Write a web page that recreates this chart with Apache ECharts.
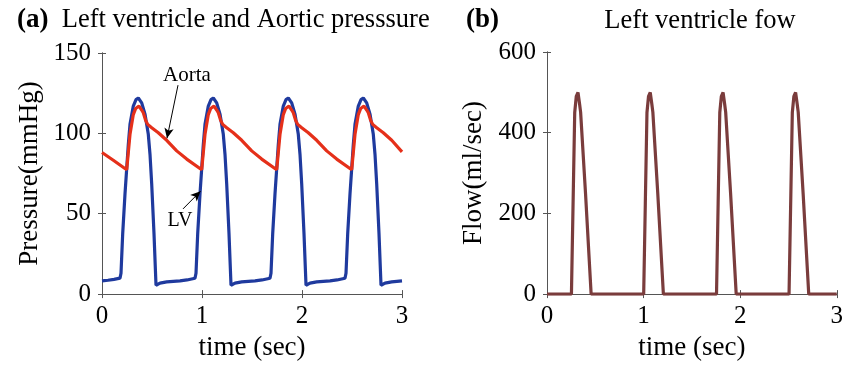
<!DOCTYPE html>
<html>
<head>
<meta charset="utf-8">
<script src="https://cdn.jsdelivr.net/npm/echarts@6/dist/echarts.min.js"></script>
<style>
  html, body { margin: 0; padding: 0; background: #fff; }
  #chart { width: 846px; height: 366px; }
</style>
</head>
<body>
<div id="chart"></div>
<script>
// time ticks (sec)
const timeTicks = [0, 1, 2, 3];
const pressureTicks = [0, 50, 100, 150];
const flowTicks = [0, 200, 400, 600];

// LV pressure [t, mmHg]
const lvPressure = [
  [0, 8.2], [0.06, 8.6], [0.12, 9.2], [0.18, 9.9],
  [0.19, 13], [0.207, 37.6], [0.23, 62.3], [0.247, 78], [0.263, 93], [0.28, 105.6], [0.313, 117], [0.34, 121], [0.363, 122],
  [0.397, 119], [0.43, 112], [0.463, 99.4], [0.48, 87], [0.497, 68.5], [0.52, 37.6], [0.54, 5.5], [0.553, 5.0],
  [0.58, 6.8], [0.647, 7.6], [0.78, 8.2], [0.85, 8.8], [0.93, 9.9],
  [0.94, 13], [0.957, 37.6], [0.98, 62.3], [0.997, 78], [1.013, 93], [1.03, 105.6], [1.063, 117], [1.09, 121], [1.113, 122],
  [1.147, 119], [1.18, 112], [1.213, 99.4], [1.23, 87], [1.247, 68.5], [1.27, 37.6], [1.29, 5.5], [1.303, 5.0],
  [1.33, 6.8], [1.397, 7.6], [1.53, 8.2], [1.6, 8.8], [1.68, 9.9],
  [1.69, 13], [1.707, 37.6], [1.73, 62.3], [1.747, 78], [1.763, 93], [1.78, 105.6], [1.813, 117], [1.84, 121], [1.863, 122],
  [1.897, 119], [1.93, 112], [1.963, 99.4], [1.98, 87], [1.997, 68.5], [2.02, 37.6], [2.04, 5.5], [2.053, 5.0],
  [2.08, 6.8], [2.147, 7.6], [2.28, 8.2], [2.35, 8.8], [2.43, 9.9],
  [2.44, 13], [2.457, 37.6], [2.48, 62.3], [2.497, 78], [2.513, 93], [2.53, 105.6], [2.563, 117], [2.59, 121], [2.613, 122],
  [2.647, 119], [2.68, 112], [2.713, 99.4], [2.73, 87], [2.747, 68.5], [2.77, 37.6], [2.79, 5.5], [2.803, 5.0],
  [2.83, 6.8], [2.897, 7.6], [3.0, 8.2]
];

// Aortic pressure [t, mmHg]
const aorticPressure = [
  [0, 88.1], [0.113, 83.3], [0.247, 77.4],
  [0.28, 99.4], [0.313, 111.7], [0.337, 115.5], [0.37, 117], [0.397, 114.5], [0.413, 112.8], [0.437, 108], [0.457, 105.6],
  [0.497, 103.5], [0.563, 100.4], [0.647, 95.7], [0.747, 89.1], [0.847, 84], [0.997, 77.4],
  [1.03, 99.4], [1.063, 111.7], [1.087, 115.5], [1.12, 117], [1.147, 114.5], [1.163, 112.8], [1.187, 108], [1.207, 105.6],
  [1.247, 103.5], [1.313, 100.4], [1.397, 95.7], [1.497, 89.1], [1.597, 84], [1.747, 77.4],
  [1.78, 99.4], [1.813, 111.7], [1.837, 115.5], [1.87, 117], [1.897, 114.5], [1.913, 112.8], [1.937, 108], [1.957, 105.6],
  [1.997, 103.5], [2.063, 100.4], [2.147, 95.7], [2.247, 89.1], [2.347, 84], [2.497, 77.4],
  [2.53, 99.4], [2.563, 111.7], [2.587, 115.5], [2.62, 117], [2.647, 114.5], [2.663, 112.8], [2.687, 108], [2.707, 105.6],
  [2.747, 103.5], [2.813, 100.4], [2.897, 95.7], [3.0, 88.5]
];

// LV flow [t, ml/sec]
const lvFlow = [
  [0, 0], [0.253, 0], [0.27, 225], [0.287, 450], [0.303, 490], [0.321, 500], [0.338, 470], [0.348, 451], [0.399, 249], [0.457, 0],
  [1.001, 0], [1.018, 225], [1.035, 450], [1.051, 490], [1.069, 500], [1.086, 470], [1.096, 451], [1.147, 249], [1.205, 0],
  [1.755, 0], [1.772, 225], [1.789, 450], [1.805, 490], [1.823, 500], [1.84, 470], [1.85, 451], [1.901, 249], [1.959, 0],
  [2.506, 0], [2.523, 225], [2.54, 450], [2.556, 490], [2.574, 500], [2.591, 470], [2.601, 451], [2.652, 249], [2.71, 0],
  [3, 0]
];

// annotation arrows and labels (data units)
const aortaArrow = [[0.76, 130], [0.65, 97]];
const lvArrow = [[0.81, 53], [0.985, 64]];
const aortaLabel = [0.85, 136];
const lvLabel = [0.78, 45.5];

const serif = "'Liberation Serif', 'Times New Roman', serif";
const axisColor = '#555';

function xAxes(gridIndex, name) {
  return [
    {
      gridIndex, type: 'value', min: timeTicks[0], max: timeTicks[timeTicks.length - 1], interval: 1,
      name, nameLocation: 'middle', nameGap: 35,
      nameTextStyle: { fontFamily: serif, fontSize: 27, color: '#000' },
      axisLine: { show: true, lineStyle: { color: axisColor, width: 1 } },
      axisTick: { show: true, inside: true, length: 4, lineStyle: { color: axisColor } },
      axisLabel: { fontFamily: serif, fontSize: 25, color: '#000', margin: 10 },
      splitLine: { show: false }
    },
    {
      gridIndex, type: 'value', position: 'top', min: timeTicks[0], max: timeTicks[timeTicks.length - 1], interval: 1,
      axisLine: { show: true, lineStyle: { color: axisColor, width: 1 } },
      axisTick: { show: true, inside: true, length: 4, lineStyle: { color: axisColor } },
      axisLabel: { show: false },
      splitLine: { show: false }
    }
  ];
}

function yAxes(gridIndex, name, ticks, nameGap) {
  const max = ticks[ticks.length - 1];
  const interval = ticks[1] - ticks[0];
  return [
    {
      gridIndex, type: 'value', min: 0, max, interval,
      name, nameLocation: 'middle', nameGap,
      nameTextStyle: { fontFamily: serif, fontSize: 27, color: '#000' },
      axisLine: { show: true, lineStyle: { color: axisColor, width: 1 } },
      axisTick: { show: true, inside: true, length: 4, lineStyle: { color: axisColor } },
      axisLabel: { fontFamily: serif, fontSize: 25, color: '#000', margin: 11 },
      splitLine: { show: false }
    },
    {
      gridIndex, type: 'value', position: 'right', min: 0, max, interval,
      axisLine: { show: true, lineStyle: { color: axisColor, width: 1 } },
      axisTick: { show: true, inside: true, length: 4, lineStyle: { color: axisColor } },
      axisLabel: { show: false },
      splitLine: { show: false }
    }
  ];
}

const chart = echarts.init(document.getElementById('chart'), null, { renderer: 'canvas' });

chart.setOption({
  animation: false,
  backgroundColor: '#fff',
  title: [
    {
      text: '{b|(a)}  Left ventricle and Aortic presssure',
      left: 12, top: 2,
      textStyle: {
        fontFamily: serif, fontSize: 26.5, fontWeight: 'normal', color: '#000',
        rich: { b: { fontFamily: serif, fontSize: 27, fontWeight: 'bold', color: '#000' } }
      }
    },
    {
      text: '(b)',
      left: 461, top: 2,
      textStyle: { fontFamily: serif, fontSize: 27, fontWeight: 'bold', color: '#000' }
    },
    {
      text: 'Left ventricle fow',
      left: 695, top: 3, textAlign: 'center',
      textStyle: { fontFamily: serif, fontSize: 26.5, fontWeight: 'normal', color: '#000' }
    }
  ],
  grid: [
    { left: 102, top: 53, width: 300, height: 243 },
    { left: 547, top: 52, width: 295, height: 247 }
  ],
  xAxis: [...xAxes(0, 'time (sec)'), ...xAxes(1, 'time (sec)')],
  yAxis: [...yAxes(0, 'Pressure(mmHg)', pressureTicks, 59), ...yAxes(1, 'Flow(ml/sec)', flowTicks, 60)],
  series: [
    {
      name: 'LV', type: 'line', xAxisIndex: 0, yAxisIndex: 0,
      data: lvPressure, showSymbol: false,
      lineStyle: { color: '#1f3a9e', width: 3.2 },
      markLine: {
        silent: true, symbol: ['none', 'arrow'], symbolSize: [7, 10],
        lineStyle: { color: '#000', width: 1, type: 'solid' },
        label: { show: false },
        data: [[{ coord: lvArrow[0] }, { coord: lvArrow[1] }]]
      },
      markPoint: {
        silent: true, symbol: 'circle', symbolSize: 0,
        label: { show: true, position: 'inside', formatter: 'LV', fontFamily: serif, fontSize: 20, color: '#000' },
        data: [{ coord: lvLabel }]
      }
    },
    {
      name: 'Aorta', type: 'line', xAxisIndex: 0, yAxisIndex: 0,
      data: aorticPressure, showSymbol: false,
      lineStyle: { color: '#e5301a', width: 3.2 },
      markLine: {
        silent: true, symbol: ['none', 'arrow'], symbolSize: [7, 10],
        lineStyle: { color: '#000', width: 1, type: 'solid' },
        label: { show: false },
        data: [[{ coord: aortaArrow[0] }, { coord: aortaArrow[1] }]]
      },
      markPoint: {
        silent: true, symbol: 'circle', symbolSize: 0,
        label: { show: true, position: 'inside', formatter: 'Aorta', fontFamily: serif, fontSize: 21, color: '#000' },
        data: [{ coord: aortaLabel }]
      }
    },
    {
      name: 'Flow', type: 'line', xAxisIndex: 2, yAxisIndex: 2,
      data: lvFlow, showSymbol: false,
      lineStyle: { color: '#7a3c3c', width: 3.2 }
    }
  ]
});
</script>
</body>
</html>
